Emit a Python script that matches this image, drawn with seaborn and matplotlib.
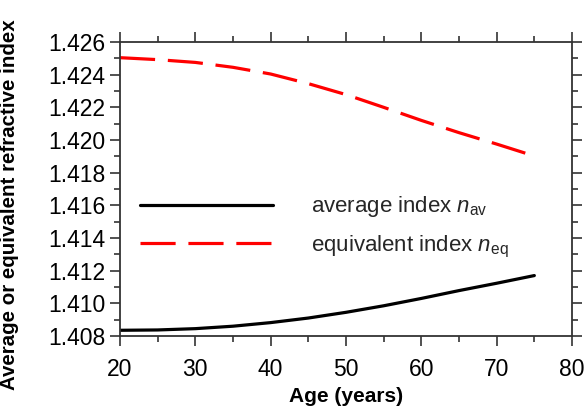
import numpy as np
import pandas as pd
import matplotlib
matplotlib.use("Agg")
import matplotlib.pyplot as plt
import seaborn as sns
from matplotlib.ticker import MultipleLocator

age = [20, 25, 30, 35, 40, 45, 50, 55, 60, 65, 70, 75]
n_av = [1.40835, 1.40837, 1.40845, 1.40860, 1.40882, 1.40910, 1.40945, 1.40985, 1.41030, 1.41078, 1.41123, 1.41170]
n_eq = [1.42504, 1.42492, 1.42475, 1.42445, 1.42404, 1.42345, 1.42278, 1.42200, 1.42120, 1.42045, 1.41975, 1.41902]
labels = [r"average index $\it{n}_{\rm av}$", r"equivalent index $\it{n}_{\rm eq}$"]

df = pd.DataFrame({
    "age": age * 2,
    "n": n_av + n_eq,
    "series": [labels[0]] * len(age) + [labels[1]] * len(age),
})

sns.set_theme(style="white")
plt.rcParams["font.family"] = ["Liberation Sans", "DejaVu Sans"]
plt.rcParams["mathtext.fontset"] = "custom"
plt.rcParams["mathtext.rm"] = "Liberation Sans"
plt.rcParams["mathtext.it"] = "Liberation Sans:italic"

fig = plt.figure(figsize=(5.86, 4.08), dpi=100)
ax = fig.add_axes([120 / 586, 1 - 336 / 408, 452 / 586, 294 / 408])

sns.lineplot(data=df, x="age", y="n", hue="series", style="series",
             palette={labels[0]: "black", labels[1]: "#ff0000"},
             dashes={labels[0]: "", labels[1]: (11, 4)},
             linewidth=2.3, ax=ax)

ax.set_xlim(20, 80)
ax.set_ylim(1.408, 1.426)
ax.xaxis.set_major_locator(MultipleLocator(10))
ax.xaxis.set_minor_locator(MultipleLocator(5))
ax.yaxis.set_major_locator(MultipleLocator(0.002))
ax.yaxis.set_minor_locator(MultipleLocator(0.001))
ax.yaxis.set_major_formatter(matplotlib.ticker.FormatStrFormatter("%.3f"))
ax.tick_params(which="both", direction="out", top=True, right=True,
               bottom=True, left=True, color="#333333", width=1.2, labelsize=16.5,
               labelcolor="black")
ax.tick_params(which="major", length=7)
ax.tick_params(which="minor", length=4.5)
ax.tick_params(axis="x", pad=9)
for s in ax.spines.values():
    s.set_color("#333333")
    s.set_linewidth(1.3)

ax.set_xlabel("Age (years)", fontsize=15, fontweight="bold", color="black")
ax.set_ylabel("Average or equivalent refractive index", fontsize=14.8, fontweight="bold",
              color="black")
# label positions in axes coordinates (axes spans x 120..572, y 42..336 px)
ax.xaxis.set_label_coords(0.5, -(387 - 336) / 294)
ax.yaxis.set_label_coords(-(120 - 19) / 452, (336 - 205) / 294)

leg = ax.legend(loc="upper left", bbox_to_anchor=(0.0, 0.55), frameon=False,
                fontsize=16, handlelength=6.0, handletextpad=1.7, labelspacing=0.65)

fig.savefig("out.png", dpi=100)
